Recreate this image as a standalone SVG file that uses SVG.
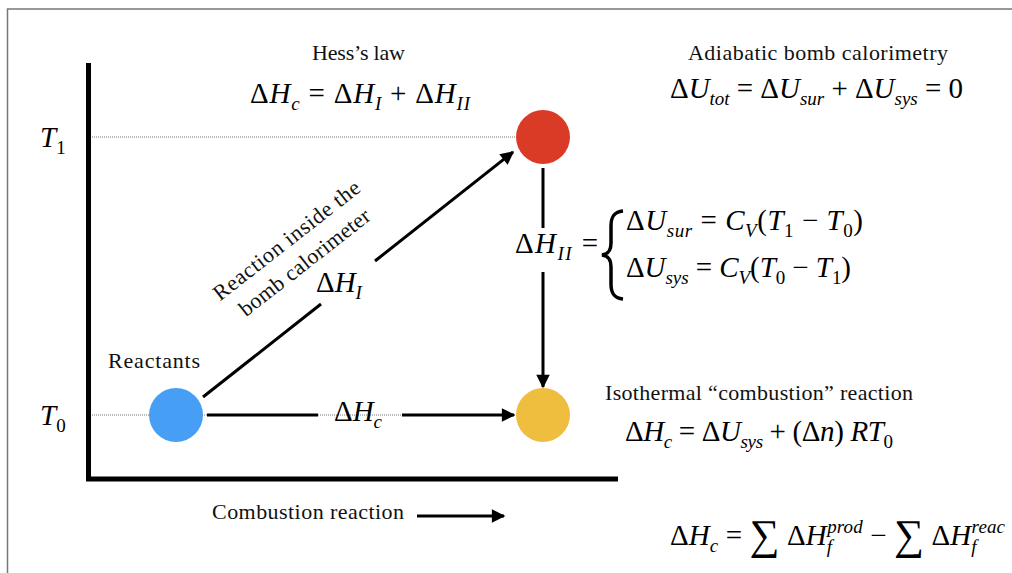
<svg xmlns="http://www.w3.org/2000/svg" width="1012" height="573" viewBox="0 0 1012 573">
<defs>
<style>
.lbl{font-family:"Liberation Serif","Times New Roman",serif;font-size:22px;fill:#111}
.m{font-family:"Liberation Serif","Times New Roman",serif;font-size:29px;fill:#000}
.i{font-style:italic}
.s{font-size:19px}
.big{font-size:42px}
.dot{stroke:#777;stroke-width:1;stroke-dasharray:1 1;fill:none}
.ln{stroke:#000;stroke-width:3;fill:none}
</style>
<marker id="ah" viewBox="0 0 10 10" refX="9" refY="5" markerWidth="5.5" markerHeight="4.5" orient="auto" markerUnits="strokeWidth">
<path d="M0,0 L10,5 L0,10 z" fill="#000"/>
</marker>
</defs>
<rect width="1012" height="573" fill="#fff"/>
<g id="frame">
<path d="M7.5,573 V9 H1012" stroke="#777" stroke-width="1.5" fill="none"/>
</g>
<g id="axes">
<path d="M88.5,63 V479 H618" stroke="#000" stroke-width="5" fill="none"/>
<line class="dot" x1="92" y1="137" x2="516" y2="137"/>
<line class="dot" x1="92" y1="415" x2="516" y2="415"/>
</g>
<g id="connectors">
<line class="ln" x1="203" y1="397" x2="321" y2="304"/>
<line class="ln" x1="375" y1="261" x2="513" y2="152" marker-end="url(#ah)"/>
<line class="ln" x1="207" y1="415" x2="318" y2="415"/>
<line class="ln" x1="402" y1="415" x2="514" y2="415" marker-end="url(#ah)"/>
<line class="ln" x1="543" y1="168" x2="543" y2="228"/>
<line class="ln" x1="543" y1="272" x2="543" y2="387" marker-end="url(#ah)"/>
<line class="ln" x1="417" y1="516" x2="504" y2="516" marker-end="url(#ah)"/>
</g>
<g id="node-products-hot"><circle cx="543" cy="137" r="27" fill="#DA3B27"/></g>
<g id="node-reactants"><circle cx="176" cy="415" r="27" fill="#479EF5"/>
<text class="lbl" x="108" y="368" textLength="92">Reactants</text></g>
<g id="node-products"><circle cx="543" cy="415" r="27" fill="#F0BE3F"/></g>
<g id="labels">
<text class="lbl" x="312" y="60" textLength="93">Hess’s law</text>
<text class="m" x="250" y="103" textLength="220">Δ<tspan class="i">H</tspan><tspan class="s i" dy="7">c</tspan><tspan dy="-7"> = Δ</tspan><tspan class="i">H</tspan><tspan class="s i" dy="7">I</tspan><tspan dy="-7"> + Δ</tspan><tspan class="i">H</tspan><tspan class="s i" dy="7">II</tspan></text>
<text class="lbl" x="688" y="60" textLength="260">Adiabatic bomb calorimetry</text>
<text class="m" x="670" y="98" textLength="293">Δ<tspan class="i">U</tspan><tspan class="s i" dy="7">tot</tspan><tspan dy="-7"> = Δ</tspan><tspan class="i">U</tspan><tspan class="s i" dy="7">sur</tspan><tspan dy="-7"> + Δ</tspan><tspan class="i">U</tspan><tspan class="s i" dy="7">sys</tspan><tspan dy="-7"> = 0</tspan></text>
<text class="m" x="40" y="147"><tspan class="i">T</tspan><tspan class="s" dy="7">1</tspan></text>
<text class="m" x="40" y="425"><tspan class="i">T</tspan><tspan class="s" dy="7">0</tspan></text>
<text class="lbl" transform="translate(291,246) rotate(-38)" text-anchor="middle" textLength="180">Reaction inside the</text>
<text class="lbl" transform="translate(309,268) rotate(-38)" text-anchor="middle" textLength="160">bomb calorimeter</text>
<text class="m" x="316" y="292">Δ<tspan class="i">H</tspan><tspan class="s i" dy="7">I</tspan></text>
<text class="m" x="334" y="421">Δ<tspan class="i">H</tspan><tspan class="s i" dy="7">c</tspan></text>
<text class="m" x="515" y="253" textLength="83">Δ<tspan class="i">H</tspan><tspan class="s i" dy="7">II</tspan><tspan dy="-7"> =</tspan></text>
<path d="M623,211 C613,212 611,218 611,226 L611,243 C611,250 609,254 602,255 C609,256 611,260 611,267 L611,284 C611,292 613,298 623,299" stroke="#000" stroke-width="3.5" fill="none"/>
<text class="m" x="626" y="230" textLength="237">Δ<tspan class="i">U</tspan><tspan class="s i" dy="7">sur</tspan><tspan dy="-7"> = </tspan><tspan class="i">C</tspan><tspan class="s i" dy="7">V</tspan><tspan dy="-7">(</tspan><tspan class="i">T</tspan><tspan class="s" dy="7">1</tspan><tspan dy="-7"> − </tspan><tspan class="i">T</tspan><tspan class="s" dy="7">0</tspan><tspan dy="-7">)</tspan></text>
<text class="m" x="626" y="277" textLength="225">Δ<tspan class="i">U</tspan><tspan class="s i" dy="7">sys</tspan><tspan dy="-7"> = </tspan><tspan class="i">C</tspan><tspan class="s i" dy="7">V</tspan><tspan dy="-7">(</tspan><tspan class="i">T</tspan><tspan class="s" dy="7">0</tspan><tspan dy="-7"> − </tspan><tspan class="i">T</tspan><tspan class="s" dy="7">1</tspan><tspan dy="-7">)</tspan></text>
<text class="lbl" x="605" y="400" textLength="308">Isothermal “combustion” reaction</text>
<text class="m" x="625" y="441" textLength="268">Δ<tspan class="i">H</tspan><tspan class="s i" dy="7">c</tspan><tspan dy="-7"> = Δ</tspan><tspan class="i">U</tspan><tspan class="s i" dy="7">sys</tspan><tspan dy="-7"> + (Δ</tspan><tspan class="i">n</tspan><tspan>) </tspan><tspan class="i">RT</tspan><tspan class="s" dy="7">0</tspan></text>
<text class="lbl" x="212" y="519" textLength="192">Combustion reaction</text>
<text class="m" x="670" y="545" textLength="335">Δ<tspan class="i">H</tspan><tspan class="s i" dy="7">c</tspan><tspan dy="-7"> = </tspan><tspan class="big" dy="4">∑</tspan><tspan dy="-4"> Δ</tspan><tspan class="i">H</tspan><tspan class="s i" dy="8">f</tspan><tspan class="s i" dx="-5" dy="-20">prod</tspan><tspan dy="12"> − </tspan><tspan class="big" dy="4">∑</tspan><tspan dy="-4"> Δ</tspan><tspan class="i">H</tspan><tspan class="s i" dy="8">f</tspan><tspan class="s i" dx="-5" dy="-20">reac</tspan></text>
</g>
</svg>
